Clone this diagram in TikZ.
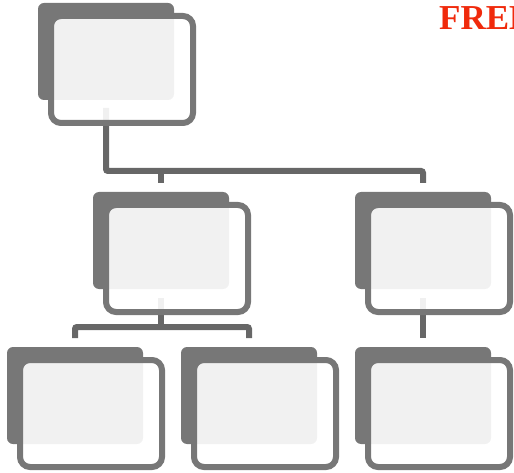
\documentclass[tikz,border=0pt]{standalone}
\usepackage{fontspec}
\newfontfamily\titlefont{Liberation Serif}
\usetikzlibrary{backgrounds}
\definecolor{boxgray}{HTML}{777777}
\definecolor{linkgray}{HTML}{676767}
\definecolor{freered}{RGB}{240,42,12}
\begin{document}
\begin{tikzpicture}[x=1pt,y=-1pt]

    \tikzset{
      backbox/.style={
        rectangle,
        fill=boxgray,
        rounded corners=6pt,
        inner sep=0pt,
        outer sep=0pt,
        minimum width=136pt,
        minimum height=97pt,
        anchor=north west,
      },
      frontbox/.style={
        rectangle,
        draw=boxgray,
        line width=6pt,
        fill=white,
        fill opacity=0.9,
        rounded corners=10pt,
        inner sep=0pt,
        outer sep=0pt,
        minimum width=142pt,
        minimum height=107pt,
        anchor=north west,
      },
      link/.style={
        draw=linkgray,
        line width=6pt,
        rounded corners=2pt,
      },
    }
    \useasboundingbox (0,0) rectangle (514,473);

    \node[backbox] (top) at (38,3) {};
    \node[backbox] (midL) at (93,192) {};
    \node[backbox] (midR) at (355,192) {};
    \node[backbox] (botL) at (7,347) {};
    \node[backbox] (botM) at (181,347) {};
    \node[backbox] (botR) at (355,347) {};

    \foreach \b in {top,midL,midR,botL,botM,botR}
      \node[frontbox] (\b-f) at ([shift={(13pt,-13pt)}]\b.north west) {};

    \coordinate (bus1) at (0,171);
    \coordinate (bus2) at (0,327);

    % connectors sit behind the boxes
    \begin{scope}[on background layer]
	\draw[link] ([yshift=-8pt]top.south) |- (midR.north |- bus1) -- ([yshift=9pt]midR.north);
	\draw[link] (midL.north |- bus1) -- ([yshift=9pt]midL.north);
	\draw[link] ([yshift=-9pt]midL.south) -- (midL.south |- bus2);
	\draw[link] ([yshift=9pt]botL.north) |- (botM.north |- bus2) -- ([yshift=9pt]botM.north);
	\draw[link] ([yshift=-9pt]midR.south) -- ([yshift=9pt]botR.north);
    \end{scope}

    \node[anchor=base west, inner sep=0pt, text=freered, font=\titlefont\bfseries\fontsize{35}{35}\selectfont] (title) at (439,30) {FREE};

\end{tikzpicture}
\end{document}
